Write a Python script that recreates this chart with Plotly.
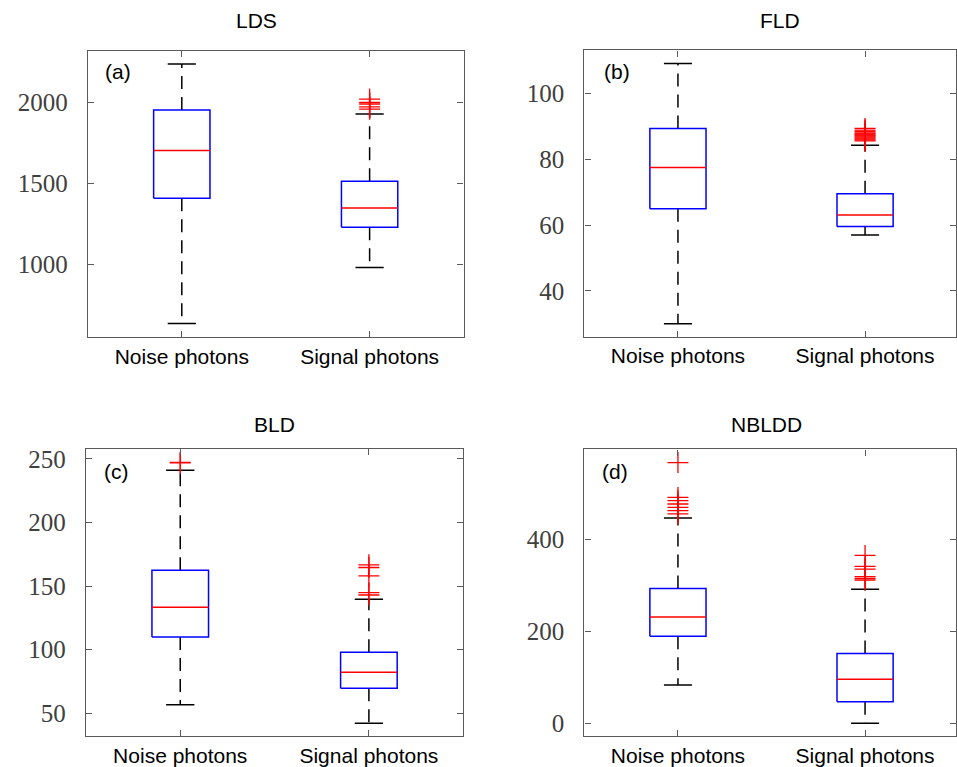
import plotly.graph_objects as go

categories = ["Noise photons", "Signal photons"]
titles = ["LDS", "FLD", "BLD", "NBLDD"]
panel_tags = ["(a)", "(b)", "(c)", "(d)"]

# LDS
lds_q1 = [1410, 1231]
lds_median = [1704, 1349]
lds_q3 = [1953, 1514]
lds_lower = [637, 982]
lds_upper = [2237, 1929]
lds_noise_out = []
lds_signal_out = [2020, 2000, 1990, 1972, 1958]

# FLD
fld_q1 = [65.0, 59.6]
fld_median = [77.5, 63.1]
fld_q3 = [89.4, 69.5]
fld_lower = [30.0, 57.0]
fld_upper = [109.1, 84.3]
fld_noise_out = []
fld_signal_out = [89.4, 88.9, 88.5, 88.0, 87.7, 87.4, 87.1, 86.8, 86.5, 86.2, 85.9, 85.6]

# BLD
bld_q1 = [109.9, 69.7]
bld_median = [133.3, 82.2]
bld_q3 = [162.5, 97.9]
bld_lower = [56.8, 42.2]
bld_upper = [241.1, 139.6]
bld_noise_out = [247.3, 246.8]
bld_signal_out = [166.7, 164.6, 158.1, 144.8, 143.0]

# NBLDD
nbldd_q1 = [189.2, 47.0]
nbldd_median = [231.2, 96.0]
nbldd_q3 = [293.1, 151.7]
nbldd_lower = [83.0, 0.0]
nbldd_upper = [446.8, 291.8]
nbldd_noise_out = [567.5, 491.6, 484.4, 477.3, 470.0, 462.8, 455.6]
nbldd_signal_out = [365.3, 341.5, 335.6, 319.0, 315.5, 311.8]

panels = [
    (lds_q1, lds_median, lds_q3, lds_lower, lds_upper, [lds_noise_out, lds_signal_out]),
    (fld_q1, fld_median, fld_q3, fld_lower, fld_upper, [fld_noise_out, fld_signal_out]),
    (bld_q1, bld_median, bld_q3, bld_lower, bld_upper, [bld_noise_out, bld_signal_out]),
    (nbldd_q1, nbldd_median, nbldd_q3, nbldd_lower, nbldd_upper, [nbldd_noise_out, nbldd_signal_out]),
]

y_ranges = [[553, 2318], [26.0, 113.1], [31.8, 257.8], [-28.8, 596.2]]
y_ticks = [[1000, 1500, 2000], [40, 60, 80, 100], [50, 100, 150, 200, 250], [0, 200, 400]]

W, H = 957, 767
# pixel boxes of axes (left, right, top, bottom)
boxes = [(88, 464, 48, 336), (585, 957, 47.7, 335.7), (86, 463.7, 448.3, 737.3), (585, 957, 448.7, 737.3)]
x_ranges = [[0.5, 2.5], [0.5, 2.486], [0.5, 2.5], [0.5, 2.486]]
title_pos = [(257, 18), (781, 18), (275, 424), (767, 424)]
tag_pos = [(103, 69), (603, 69), (102, 471), (601, 471)]

BOXW = 0.15
CAPW = 0.075
AXC = "#5a5a5a"

fig = go.Figure()
for i, (q1, med, q3, lo, up, outs) in enumerate(panels):
    xa = "x" if i == 0 else f"x{i+1}"
    ya = "y" if i == 0 else f"y{i+1}"
    for j in range(2):
        c = j + 1
        # whiskers
        fig.add_trace(go.Scatter(x=[c, c, None, c, c], y=[q3[j], up[j], None, q1[j], lo[j]],
                                 mode="lines", line=dict(color="black", width=1.5, dash="13px,8px"),
                                 xaxis=xa, yaxis=ya, showlegend=False, hoverinfo="skip"))
        # caps
        fig.add_trace(go.Scatter(x=[c - CAPW, c + CAPW, None, c - CAPW, c + CAPW],
                                 y=[up[j], up[j], None, lo[j], lo[j]],
                                 mode="lines", line=dict(color="black", width=1.5),
                                 xaxis=xa, yaxis=ya, showlegend=False, hoverinfo="skip"))
        # box
        fig.add_trace(go.Scatter(x=[c - BOXW, c + BOXW, c + BOXW, c - BOXW, c - BOXW],
                                 y=[q1[j], q1[j], q3[j], q3[j], q1[j]],
                                 mode="lines", line=dict(color="#0000ff", width=1.5),
                                 xaxis=xa, yaxis=ya, showlegend=False, hoverinfo="skip"))
        # median
        fig.add_trace(go.Scatter(x=[c - BOXW, c + BOXW], y=[med[j], med[j]],
                                 mode="lines", line=dict(color="#ff0000", width=1.5),
                                 xaxis=xa, yaxis=ya, showlegend=False, hoverinfo="skip"))
        # outliers
        if outs[j]:
            fig.add_trace(go.Scatter(x=[c] * len(outs[j]), y=outs[j], mode="markers",
                                     marker=dict(symbol="cross-thin-open", size=15, color="#ff0000",
                                                 line=dict(color="#ff0000", width=1.3)),
                                     xaxis=xa, yaxis=ya, showlegend=False, hoverinfo="skip"))

layout = dict(width=W, height=H, margin=dict(l=0, r=0, t=0, b=0),
              paper_bgcolor="white", plot_bgcolor="white")
annotations = []
for i in range(4):
    l, r, t, b = boxes[i]
    xk = "xaxis" if i == 0 else f"xaxis{i+1}"
    yk = "yaxis" if i == 0 else f"yaxis{i+1}"
    anchor_x = "y" if i == 0 else f"y{i+1}"
    anchor_y = "x" if i == 0 else f"x{i+1}"
    layout[xk] = dict(domain=[l / W, min(r / W, 1.0)], range=x_ranges[i], anchor=anchor_x,
                      tickvals=[1, 2], ticktext=categories, showgrid=False, zeroline=False,
                      showline=True, linecolor=AXC, linewidth=1.3, mirror="ticks",
                      ticks="inside", ticklen=6, tickcolor=AXC, tickwidth=1.2,
                      tickfont=dict(family="Liberation Sans, Arial", size=21, color="black"))
    layout[yk] = dict(domain=[1 - b / H, 1 - t / H], range=y_ranges[i], anchor=anchor_y,
                      tickvals=y_ticks[i], showgrid=False, zeroline=False,
                      showline=True, linecolor=AXC, linewidth=1.3, mirror="ticks",
                      ticks="inside", ticklen=6, tickcolor=AXC, tickwidth=1.2,
                      ticklabelstandoff=14,
                      tickfont=dict(family="Liberation Serif, Times New Roman", size=25, color="#404040"))
    tx, ty = title_pos[i]
    annotations.append(dict(text=titles[i], x=tx / W, y=1 - ty / H, xref="paper", yref="paper",
                            xanchor="center", yanchor="middle", showarrow=False,
                            font=dict(family="Liberation Sans, Arial", size=21, color="black")))
    gx, gy = tag_pos[i]
    annotations.append(dict(text=panel_tags[i], x=gx / W, y=1 - gy / H, xref="paper", yref="paper",
                            xanchor="left", yanchor="middle", showarrow=False,
                            font=dict(family="Liberation Sans, Arial", size=21, color="black")))
layout["annotations"] = annotations
fig.update_layout(**layout)
fig.write_html("out.html")
